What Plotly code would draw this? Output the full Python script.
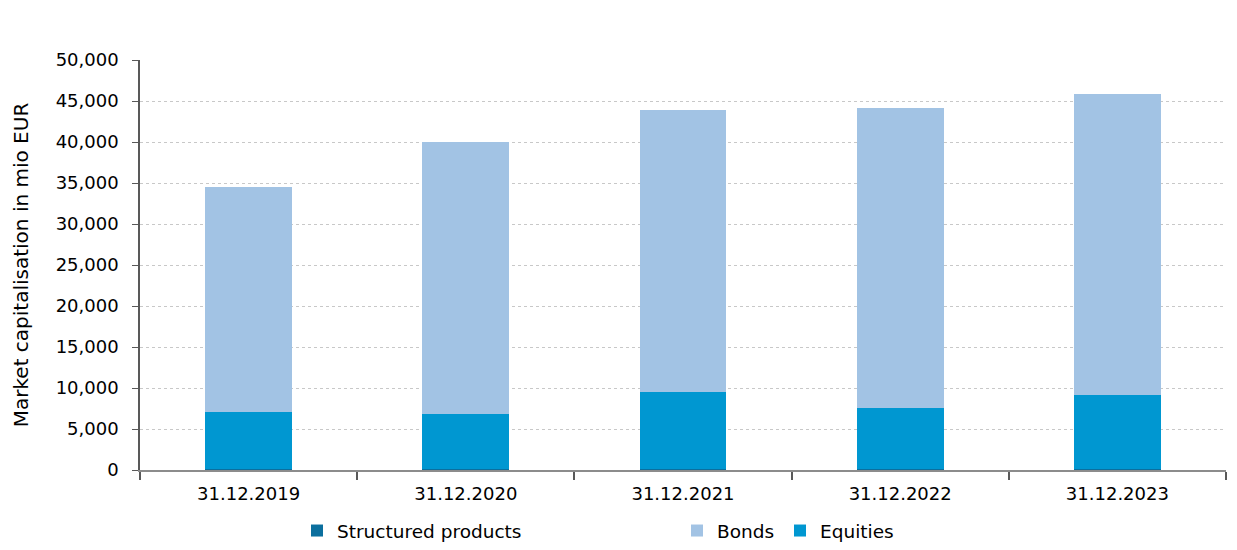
import plotly.graph_objects as go

# Market capitalisation by segment, mio EUR
dates = ["31.12.2019", "31.12.2020", "31.12.2021", "31.12.2022", "31.12.2023"]
structured_products = [120, 120, 120, 120, 120]
equities = [6900, 6750, 9350, 7400, 8980]
bonds = [27480, 33080, 34480, 36580, 36720]

tick_vals = [0, 5000, 10000, 15000, 20000, 25000, 30000, 35000, 40000, 45000, 50000]
tick_text = ["0", "5,000", "10,000", "15,000", "20,000", "25,000", "30,000",
             "35,000", "40,000", "45,000", "50,000"]

FONT = "DejaVu Sans"
SIZE = 18
W, H = 1237, 550

fig = go.Figure()
fig.add_trace(go.Bar(x=dates, y=structured_products, name="Structured products",
                     marker=dict(color="#0b6f9e", line=dict(width=0)), legend="legend"))
fig.add_trace(go.Bar(x=dates, y=equities, name="Equities",
                     marker=dict(color="#0097d1", line=dict(width=0)), legend="legend3"))
fig.add_trace(go.Bar(x=dates, y=bonds, name="Bonds",
                     marker=dict(color="#a2c3e4", line=dict(width=0)), legend="legend2"))

legend_common = dict(orientation="h", xref="container", yref="container",
                     yanchor="middle", xanchor="left", bgcolor="rgba(0,0,0,0)",
                     font=dict(family=FONT, size=18.5, color="#000000"),
                     itemwidth=30, tracegroupgap=0)

fig.update_layout(
    width=W, height=H,
    barmode="stack",
    bargap=0.6,
    plot_bgcolor="white",
    paper_bgcolor="white",
    font=dict(family=FONT, size=SIZE, color="#000000"),
    margin=dict(l=140, r=11, t=60, b=80, autoexpand=False),
    showlegend=True,
    legend=dict(x=297 / W, y=1 - 531 / H, **legend_common),
    legend2=dict(x=677 / W, y=1 - 531 / H, **legend_common),
    legend3=dict(x=780 / W, y=1 - 531 / H, **legend_common),
    xaxis=dict(
        type="category",
        automargin=False,
        showline=True, linecolor="#8c8c8c", linewidth=2,
        ticks="outside", tickson="boundaries", ticklen=8, tickcolor="#595959", tickwidth=2,
        showgrid=False,
        ticklabelstandoff=6,
        tickfont=dict(family=FONT, size=SIZE, color="#000000"),
    ),
    yaxis=dict(
        range=[0, 50000],
        automargin=False,
        tickvals=tick_vals, ticktext=tick_text,
        showline=True, linecolor="#595959", linewidth=1.5,
        ticks="outside", ticklen=6, tickcolor="#595959",
        ticklabelstandoff=10,
        showgrid=True, gridcolor="#c8c8c8", griddash="dot", gridwidth=1,
        zeroline=False,
        tickfont=dict(family=FONT, size=SIZE, color="#000000"),
        title=dict(text="Market capitalisation in mio EUR",
                   font=dict(family=FONT, size=20, color="#000000"), standoff=22),
    ),
)

fig.write_html("out.html")
